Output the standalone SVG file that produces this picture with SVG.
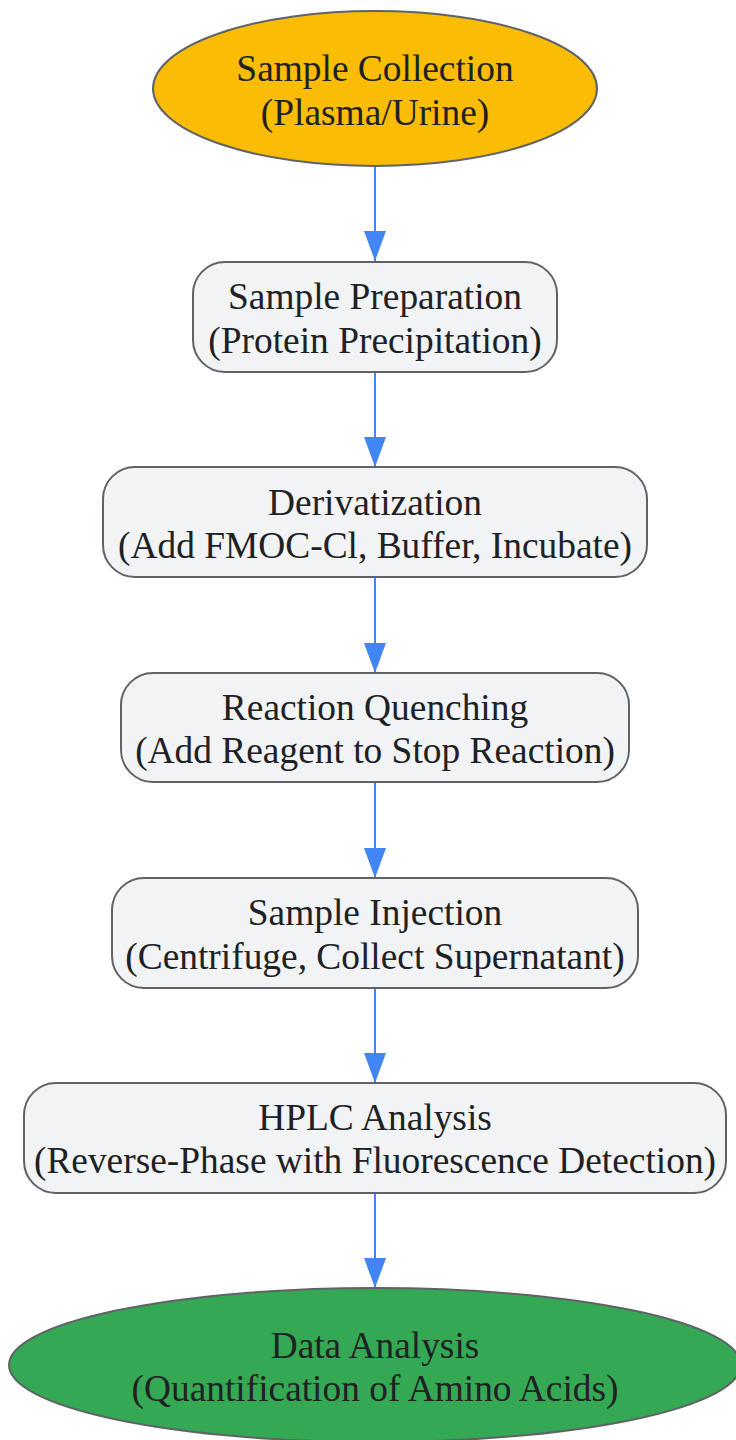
<svg xmlns="http://www.w3.org/2000/svg" width="736" height="1440" viewBox="0 0 736 1440">
<style>
.node{stroke:#5F6368;stroke-width:2}
.box{fill:#F1F3F4}
.t{font-family:"Liberation Serif","Times New Roman",serif;font-size:37.4px;fill:#202124;text-anchor:middle}
.edge{stroke:#4285F4;stroke-width:2;fill:none;marker-end:url(#arrow)}
</style>
<defs>
<marker id="arrow" markerUnits="userSpaceOnUse" markerWidth="30" markerHeight="22" refX="30" refY="11" orient="auto" viewBox="0 0 30 22">
<path d="M0,0 L30,11 L0,22 Z" fill="#4285F4"/>
</marker>
</defs>
<rect width="736" height="1440" fill="#FFFFFF"/>
<g id="edges">
<line class="edge" x1="375" y1="166" x2="375" y2="261"/>
<line class="edge" x1="375" y1="372" x2="375" y2="467"/>
<line class="edge" x1="375" y1="577" x2="375" y2="673"/>
<line class="edge" x1="375" y1="782" x2="375" y2="878"/>
<line class="edge" x1="375" y1="988" x2="375" y2="1083"/>
<line class="edge" x1="375" y1="1193" x2="375" y2="1288"/>
</g>
<g id="n1">
<ellipse class="node" cx="375" cy="88.5" rx="222" ry="77.5" fill="#FBBC05"/>
<text class="t" x="375" y="81">Sample Collection</text>
<text class="t" x="375" y="125">(Plasma/Urine)</text>
</g>
<g id="n2">
<rect class="node box" x="193" y="262" width="364" height="110" rx="32" ry="32"/>
<text class="t" x="375" y="309">Sample Preparation</text>
<text class="t" x="375" y="353">(Protein Precipitation)</text>
</g>
<g id="n3">
<rect class="node box" x="103" y="467" width="544" height="110" rx="32" ry="32"/>
<text class="t" x="375" y="515">Derivatization</text>
<text class="t" x="375" y="558">(Add FMOC-Cl, Buffer, Incubate)</text>
</g>
<g id="n4">
<rect class="node box" x="121" y="673" width="508" height="109" rx="32" ry="32"/>
<text class="t" x="375" y="720">Reaction Quenching</text>
<text class="t" x="375" y="763">(Add Reagent to Stop Reaction)</text>
</g>
<g id="n5">
<rect class="node box" x="112" y="878" width="526" height="110" rx="32" ry="32"/>
<text class="t" x="375" y="925">Sample Injection</text>
<text class="t" x="375" y="969">(Centrifuge, Collect Supernatant)</text>
</g>
<g id="n6">
<rect class="node box" x="24" y="1083" width="702" height="110" rx="32" ry="32"/>
<text class="t" x="375" y="1130">HPLC Analysis</text>
<text class="t" x="375" y="1173">(Reverse-Phase with Fluorescence Detection)</text>
</g>
<g id="n7">
<ellipse class="node" cx="375" cy="1365" rx="366" ry="77" fill="#34A853"/>
<text class="t" x="375" y="1358">Data Analysis</text>
<text class="t" x="375" y="1401">(Quantification of Amino Acids)</text>
</g>
</svg>
